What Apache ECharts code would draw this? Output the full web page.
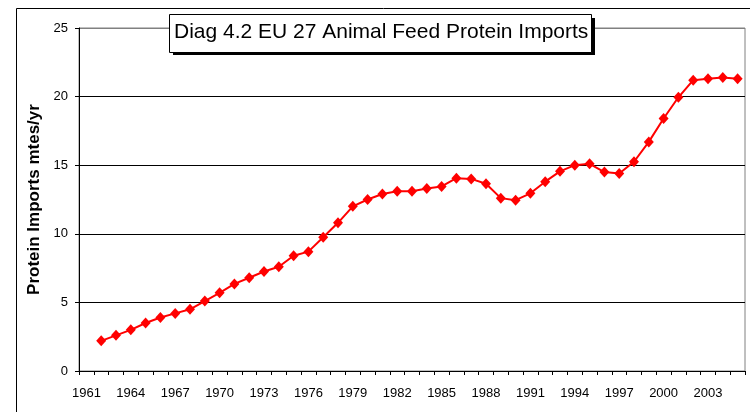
<!DOCTYPE html>
<html lang="en">
<head>
    <meta charset="UTF-8">
    <title>EU 27 Animal Feed Protein Imports</title>
    <script src="https://cdn.jsdelivr.net/npm/echarts@6/dist/echarts.min.js"></script>
    <style type="text/css">
        html, body { margin: 0; padding: 0; background: #fff; }
        #main { width: 750px; height: 412px; }
    </style>
</head>
<body>
<div id="main"></div>
<script>
    // years on the category axis (1961 has no point)
    var years = ['1961', '1962', '1963', '1964', '1965', '1966', '1967', '1968', '1969', '1970',
        '1971', '1972', '1973', '1974', '1975', '1976', '1977', '1978', '1979', '1980',
        '1981', '1982', '1983', '1984', '1985', '1986', '1987', '1988', '1989', '1990',
        '1991', '1992', '1993', '1994', '1995', '1996', '1997', '1998', '1999', '2000',
        '2001', '2002', '2003', '2004', '2005'];
    // years that have a value
    var dataYears = ['1962', '1963', '1964', '1965', '1966', '1967', '1968', '1969', '1970',
        '1971', '1972', '1973', '1974', '1975', '1976', '1977', '1978', '1979', '1980',
        '1981', '1982', '1983', '1984', '1985', '1986', '1987', '1988', '1989', '1990',
        '1991', '1992', '1993', '1994', '1995', '1996', '1997', '1998', '1999', '2000',
        '2001', '2002', '2003', '2004', '2005'];
    // protein imports, million tonnes per year
    var imports = [2.2, 2.6, 3.0, 3.5, 3.9, 4.2, 4.5, 5.1, 5.7,
        6.35, 6.8, 7.25, 7.6, 8.4, 8.7, 9.75, 10.8, 12.0, 12.5,
        12.9, 13.1, 13.1, 13.3, 13.45, 14.05, 14.0, 13.65, 12.6, 12.45,
        12.95, 13.8, 14.55, 15.0, 15.1, 14.5, 14.4, 15.25, 16.7, 18.4,
        19.95, 21.2, 21.3, 21.4, 21.3];

    var titleText = 'Diag 4.2 EU 27 Animal Feed Protein Imports';
    var yName = 'Protein Imports mtes/yr';

    var seriesData = dataYears.map(function (y, i) { return [y, imports[i]]; });

    var myChart = echarts.init(document.getElementById('main'));
    var font = 'Arial, "Liberation Sans", sans-serif';

    var option = {
        animation: false,
        backgroundColor: '#fff',
        textStyle: { fontFamily: font },
        grid: {
            left: 79, right: 5, top: 28, bottom: 41,
            show: true, borderColor: '#808080', borderWidth: 1
        },
        graphic: [
            // outer chart border
            { type: 'rect', left: 14, top: 6, shape: { width: 734, height: 420 },
              style: { fill: 'none', stroke: '#000', lineWidth: 1 }, z: 0 },
            // title box with shadow
            { type: 'rect', left: 173, top: 18, shape: { width: 422, height: 37 },
              style: { fill: '#000' }, z: 10 },
            { type: 'rect', left: 169, top: 14, shape: { width: 422, height: 38 },
              style: { fill: '#fff', stroke: '#000', lineWidth: 1 }, z: 11 },
            { type: 'text', left: 174, top: 22,
              style: { text: titleText, fill: '#000', font: '21px ' + font }, z: 12 }
        ],
        xAxis: {
            type: 'category',
            data: years,
            boundaryGap: true,
            axisLine: { lineStyle: { color: '#000', width: 1 } },
            axisTick: { show: true, interval: 0, alignWithLabel: false, length: 4, lineStyle: { color: '#000', width: 1 } },
            axisLabel: { interval: 2, color: '#000', fontSize: 13, margin: 16 },
            splitLine: { show: false }
        },
        yAxis: {
            type: 'value',
            min: 0, max: 25, interval: 5,
            name: yName,
            nameLocation: 'middle',
            nameGap: 36,
            nameTextStyle: { color: '#000', fontSize: 17, fontWeight: 'bold' },
            axisLine: { show: true, lineStyle: { color: '#000', width: 1 } },
            axisTick: { show: true, length: 4, lineStyle: { color: '#000' } },
            axisLabel: { color: '#000', fontSize: 13, margin: 11 },
            splitLine: { show: true, lineStyle: { color: ['#000', '#000', '#000', '#000', '#000', '#808080'], width: 1 } }
        },
        series: [{
            type: 'line',
            data: seriesData,
            symbol: 'diamond',
            symbolSize: [10, 11],
            showSymbol: true,
            showAllSymbol: true,
            lineStyle: { color: '#ff0000', width: 2 },
            itemStyle: { color: '#ff0000' }
        }]
    };
    myChart.setOption(option);
</script>
</body>
</html>
